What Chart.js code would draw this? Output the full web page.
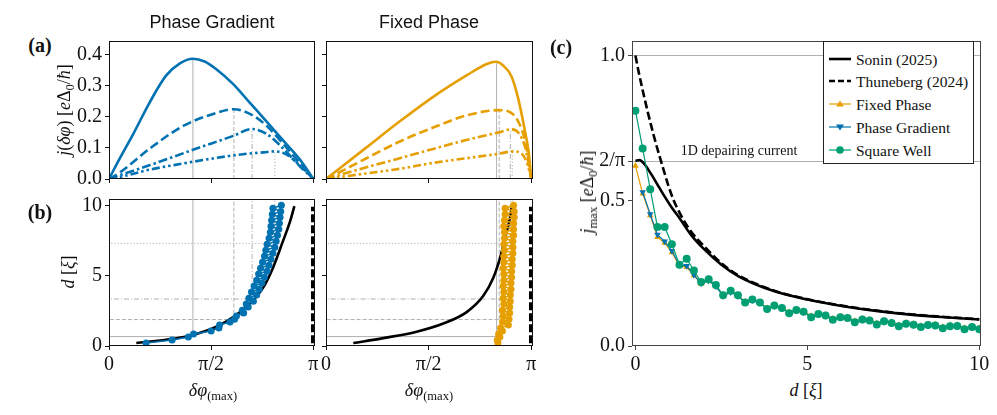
<!DOCTYPE html>
<html><head><meta charset="utf-8">
<script src="https://cdn.jsdelivr.net/npm/chart.js@4.4.1/dist/chart.umd.min.js"></script>
<style>
html,body{margin:0;padding:0;background:#fff;}
#root{position:relative;width:997px;height:415px;overflow:hidden;font-family:'Liberation Serif','Times New Roman',serif;color:#111;}
canvas{position:absolute;}
.t{position:absolute;white-space:nowrap;line-height:1;}
.rot{transform:translate(-50%,-50%) rotate(-90deg);}
.ctr{transform:translate(-50%,-50%);}
.ttl{font-family:'Liberation Sans',Arial,sans-serif;font-size:18px;}
.lab{font-family:'Liberation Serif','Times New Roman',serif;font-weight:bold;font-size:20px;}
.ax{font-family:'Liberation Serif','Times New Roman',serif;font-size:18px;}
sub{font-size:70%;vertical-align:-0.3em;line-height:0;}
#legend{position:absolute;left:823px;top:41px;width:149px;height:121px;border:1.3px solid #222;background:#fff;}
.row{position:absolute;left:0;height:20px;font-size:15.5px;}
.row svg{position:absolute;left:5px;top:4px;}
.row span{position:absolute;left:32px;top:2px;white-space:nowrap;}
</style></head>
<body><div id="root"></div>
<script>
const PI = Math.PI;
// ---------- tick labels ----------
const phaseTicks = [0, PI/2, PI];
const phaseTickLabels = ['0', 'π/2', 'π'];
const jTicks = [0, 0.1, 0.2, 0.3, 0.4];
const jTickLabels = ['0.0', '0.1', '0.2', '0.3', '0.4'];
const dTicks = [0, 5, 10];
const dTickLabels = ['0', '5', '10'];
const cYTicks = [0, 0.5, 2/PI, 1.0];
const cYTickLabels = ['0.0', '0.5', '2/π', '1.0'];
const cXTicks = [0, 5, 10];
const cXTickLabels = ['0', '5', '10'];

// ---------- (a) Phase Gradient current-phase curves ----------
const pg1X = [0, 0.18, 0.37, 0.62, 0.88, 1.09, 1.29, 1.47, 1.65, 1.91, 2.16, 2.42, 2.67, 2.93, 3.1416];
const pg1Y = [0, 0.072, 0.144, 0.245, 0.334, 0.373, 0.388, 0.379, 0.354, 0.306, 0.247, 0.186, 0.126, 0.064, 0];
const pg2X = [0, 0.16, 0.62, 1.14, 1.65, 1.92, 2.21, 2.42, 2.67, 2.93, 3.1416];
const pg2Y = [0, 0.02, 0.097, 0.171, 0.213, 0.225, 0.205, 0.172, 0.115, 0.052, 0];
const pg3X = [0, 0.16, 0.62, 1.29, 1.91, 2.20, 2.42, 2.67, 2.93, 3.1416];
const pg3Y = [0, 0.012, 0.044, 0.094, 0.139, 0.161, 0.146, 0.100, 0.042, 0];
const pg4X = [0, 0.2, 0.62, 1.14, 1.65, 2.06, 2.38, 2.55, 2.72, 2.93, 3.1416];
const pg4Y = [0, 0.008, 0.030, 0.050, 0.068, 0.080, 0.086, 0.089, 0.080, 0.045, 0];
// ---------- (a) Fixed Phase current-phase curves ----------
const fp1X = [0, 0.62, 1.13, 1.64, 2.15, 2.46, 2.60, 2.71, 2.84, 2.94, 3.03, 3.10, 3.1416];
const fp1Y = [0, 0.102, 0.186, 0.265, 0.334, 0.371, 0.378, 0.366, 0.330, 0.260, 0.170, 0.087, 0];
const fp2X = [0, 0.06, 0.62, 1.13, 1.64, 2.15, 2.65, 2.82, 2.94, 3.05, 3.1416];
const fp2Y = [0, 0.006, 0.067, 0.121, 0.166, 0.205, 0.222, 0.215, 0.186, 0.120, 0];
const fp3X = [0, 0.62, 1.13, 1.64, 2.15, 2.66, 2.83, 2.94, 3.05, 3.1416];
const fp3Y = [0, 0.038, 0.067, 0.097, 0.126, 0.151, 0.160, 0.150, 0.100, 0];
const fp4X = [0, 0.62, 1.13, 1.64, 2.15, 2.66, 2.85, 2.97, 3.07, 3.1416];
const fp4Y = [0, 0.018, 0.033, 0.052, 0.067, 0.082, 0.089, 0.085, 0.055, 0];

// maxima markers (reference lines)
const pgPhiMax = [1.29, 1.92, 2.20, 2.55];
const pgJMax = [0.388, 0.225, 0.161, 0.089];
const fpPhiMax = [2.61, 2.65, 2.82, 2.85];
const fpJMax = [0.378, 0.222, 0.160, 0.089];
const dLevels = [0.67, 1.88, 3.34, 7.3];

// ---------- (b) ----------
const sonPgPhi = [0.42, 0.88, 1.29, 1.65, 1.91, 2.16, 2.37, 2.52, 2.67, 2.78, 2.85];
const sonPgD = [0.21, 0.44, 0.79, 1.37, 2.06, 2.99, 4.15, 5.55, 7.4, 8.8, 9.95];
const sonFpPhi = [0.418, 0.877, 1.387, 1.795, 2.152, 2.407, 2.56, 2.662, 2.739, 2.825, 2.84];
const sonFpD = [0.21, 0.56, 1.02, 1.6, 2.41, 3.57, 4.85, 6.24, 7.63, 9.37, 9.84];
const thunPhi = [3.136, 3.136];
const thunD = [0.2, 9.9];
const dDots = [0.21, 0.43, 0.64, 0.85, 1.06, 1.28, 1.49, 1.70, 1.91, 2.13, 2.34, 2.55, 2.77, 2.98, 3.19, 3.40, 3.62, 3.83, 4.04, 4.26, 4.47, 4.68, 4.89, 5.11, 5.32, 5.53, 5.74, 5.96, 6.17, 6.38, 6.60, 6.81, 7.02, 7.23, 7.45, 7.66, 7.87, 8.09, 8.30, 8.51, 8.72, 8.94, 9.15, 9.36, 9.57, 9.79, 10.0];
const pgPhiDots = [0.57, 0.97, 1.22, 1.30, 1.57, 1.69, 1.70, 1.86, 1.93, 1.96, 2.07, 2.05, 2.14, 2.11, 2.22, 2.15, 2.27, 2.19, 2.31, 2.23, 2.35, 2.27, 2.39, 2.30, 2.43, 2.33, 2.46, 2.36, 2.49, 2.39, 2.52, 2.41, 2.55, 2.43, 2.57, 2.46, 2.59, 2.48, 2.61, 2.49, 2.62, 2.50, 2.63, 2.51, 2.64, 2.52, 2.65];
const fpPhiDots = [2.63, 2.62, 2.66, 2.64, 2.70, 2.67, 2.79, 2.70, 2.80, 2.71, 2.81, 2.70, 2.81, 2.72, 2.82, 2.71, 2.82, 2.72, 2.83, 2.71, 2.83, 2.72, 2.84, 2.72, 2.84, 2.71, 2.85, 2.72, 2.85, 2.72, 2.86, 2.73, 2.86, 2.72, 2.86, 2.73, 2.87, 2.73, 2.87, 2.72, 2.87, 2.73, 2.88, 2.74, 2.88, 2.74, 2.87];

// ---------- (c) ----------
const sonD = [0, 0.12, 0.25, 0.43, 0.62, 0.81, 1.05, 1.3, 1.6, 1.98, 2.5, 3.0, 4.0, 5.0, 6.0, 7.0, 8.0, 9.0, 10.0];
const sonJ = [0.637, 0.64, 0.628, 0.597, 0.56, 0.522, 0.478, 0.437, 0.385, 0.335, 0.28, 0.24, 0.19, 0.16, 0.138, 0.121, 0.108, 0.099, 0.091];
const thD = [0, 0.1, 0.23, 0.37, 0.52, 0.66, 0.81, 0.95, 1.1, 1.3, 1.6, 2.0, 2.5, 3.0, 4.0, 5.0, 6.0, 7.0, 8.0, 9.0, 10.0];
const thJ = [1.0, 0.94, 0.87, 0.80, 0.73, 0.67, 0.61, 0.555, 0.505, 0.455, 0.397, 0.343, 0.285, 0.243, 0.192, 0.161, 0.139, 0.122, 0.109, 0.1, 0.092];
const dGrid = [0, 0.21, 0.43, 0.64, 0.85, 1.06, 1.28, 1.49, 1.70, 1.91, 2.13, 2.34, 2.55, 2.77, 2.98, 3.19, 3.40, 3.62, 3.83, 4.04, 4.26, 4.47, 4.68, 4.89, 5.11, 5.32, 5.53, 5.74, 5.96, 6.17, 6.38, 6.60, 6.81, 7.02, 7.23, 7.45, 7.66, 7.87, 8.09, 8.30, 8.51, 8.72, 8.94, 9.15, 9.36, 9.57, 9.79, 10.0];
const fpJmax = [0.62, 0.525, 0.45, 0.375, 0.355, 0.322, 0.276, 0.272, 0.243, 0.214, 0.224, 0.205, 0.174, 0.186, 0.174, 0.152, 0.16, 0.15, 0.13, 0.14, 0.133, 0.116, 0.125, 0.12, 0.103, 0.112, 0.107, 0.094, 0.101, 0.098, 0.086, 0.093, 0.09, 0.078, 0.087, 0.082, 0.072, 0.08, 0.076, 0.069, 0.075, 0.074, 0.065, 0.071, 0.072, 0.062, 0.068, 0.062];
const pgJmax = [null, 0.53, 0.454, 0.383, 0.36, 0.327, 0.279, 0.276, 0.245, 0.215, 0.225, 0.205, 0.172, 0.185, 0.172, 0.15, 0.158, 0.148, 0.128, 0.137, 0.13, 0.114, 0.122, 0.117, 0.1, 0.109, 0.104, 0.091, 0.098, 0.095, 0.083, 0.09, 0.087, 0.075, 0.084, 0.079, 0.069, 0.077, 0.073, 0.066, 0.072, 0.07, 0.062, 0.068, 0.068, 0.059, 0.065, 0.058];
const swJmax = [0.81, 0.68, 0.54, 0.41, 0.41, 0.35, 0.28, 0.30, 0.26, 0.22, 0.23, 0.21, 0.175, 0.19, 0.175, 0.15, 0.16, 0.15, 0.127, 0.139, 0.131, 0.113, 0.124, 0.118, 0.099, 0.110, 0.105, 0.090, 0.099, 0.096, 0.082, 0.091, 0.088, 0.074, 0.085, 0.079, 0.068, 0.077, 0.073, 0.065, 0.072, 0.071, 0.061, 0.068, 0.069, 0.058, 0.065, 0.058];

// ---------- styling ----------
const BLUE = '#0072B2', ORANGE = '#E69F00', GREEN = '#009E73', GRAY = '#b0b0b0';
const curveDash = [[], [9, 4], [9, 3, 2.5, 3], [8, 3, 2.5, 3, 2.5, 3]];
const refDash = [[], [4, 2], [5, 2, 1, 2], [1.2, 2]];
const FONT = "'Liberation Serif', 'Times New Roman', serif";
const root = document.getElementById('root');

const pts = (xs, ys) => xs.map((x, i) => ({x: x, y: ys[i]})).filter(p => p.y !== null);

const framePlugin = {
  id: 'frame',
  afterDatasetsDraw(chart, args, o) {
    const a = chart.chartArea, ctx = chart.ctx;
    ctx.save();
    ctx.strokeStyle = o.color || '#111';
    ctx.lineWidth = 1;
    ctx.strokeRect(Math.round(a.left) + 0.5, Math.round(a.top) + 0.5, Math.round(a.right - a.left) - 1, Math.round(a.bottom - a.top) - 1);
    ctx.restore();
  }
};

function axis(min, max, ticks, labels, isX, size, axisColor, gridColor) {
  return {
    type: 'linear', min: min, max: max,
    afterBuildTicks: s => { s.ticks = ticks.map(v => ({value: v})); },
    afterFit: s => { if (isX) s.height = size; else s.width = size; },
    ticks: {
      autoSkip: false, maxRotation: 0, padding: 3, color: '#111',
      font: {family: FONT, size: 20},
      callback: (v, i) => labels ? labels[i] : ''
    },
    grid: gridColor ? {drawOnChartArea: true, color: gridColor, tickColor: axisColor, tickLength: 4, lineWidth: 1}
                    : {drawOnChartArea: false, drawTicks: true, tickLength: 4, tickColor: axisColor, color: axisColor, lineWidth: 1},
    border: {display: false}
  };
}

function makeChart(box, datasets, xAxis, yAxis, frameColor) {
  const cv = document.createElement('canvas');
  const W = box.yw + box.w + box.pr, H = box.pt + box.h + box.xh;
  cv.width = W; cv.height = H;
  cv.style.width = W + 'px'; cv.style.height = H + 'px';
  cv.style.left = (box.l - box.yw) + 'px'; cv.style.top = (box.t - box.pt) + 'px';
  root.appendChild(cv);
  return new Chart(cv, {
    type: 'scatter',
    data: {datasets: datasets},
    options: {
      responsive: false, animation: false, events: [],
      layout: {padding: {top: box.pt, right: box.pr, left: 0, bottom: 0}},
      plugins: {legend: {display: false}, tooltip: {enabled: false}, frame: {color: frameColor}},
      scales: {x: xAxis, y: yAxis}
    },
    plugins: [framePlugin]
  });
}

function curve(xs, ys, color, dash, width, order) {
  return {data: pts(xs, ys), showLine: true, borderColor: color, borderWidth: width, borderDash: dash,
          pointRadius: 0, cubicInterpolationMode: 'monotone', order: order, fill: false};
}
function ref(points, dash) {
  return {data: points, showLine: true, borderColor: GRAY, borderWidth: 1, borderDash: dash, pointRadius: 0, order: 20};
}

const pgCurves = [[pg1X, pg1Y], [pg2X, pg2Y], [pg3X, pg3Y], [pg4X, pg4Y]];
const fpCurves = [[fp1X, fp1Y], [fp2X, fp2Y], [fp3X, fp3Y], [fp4X, fp4Y]];
function aSets(curves, phiMax, jMax, color) {
  const s = [];
  curves.forEach((c, i) => s.push(curve(c[0], c[1], color, curveDash[i], 2.6, i)));
  phiMax.forEach((p, i) => s.push(ref([{x: p, y: 0}, {x: p, y: jMax[i]}], refDash[i])));
  return s;
}
function bSets(phiMax, dotsPhi, sonPhi, sonD, color) {
  const s = [];
  s.push({data: pts(dotsPhi, dDots), showLine: true, borderColor: color, borderWidth: 1.5, pointRadius: 3.5,
          pointBackgroundColor: color, pointBorderWidth: 0, order: 0});
  s.push(curve(sonPhi, sonD, '#000', [], 2.6, 1));
  s.push({data: pts(thunPhi, thunD), showLine: true, borderColor: '#000', borderWidth: 4, borderDash: [8, 3],
          pointRadius: 0, order: 2});
  phiMax.forEach((p, i) => {
    s.push(ref([{x: p, y: dLevels[i]}, {x: p, y: 20}], refDash[i]));
    s.push(ref([{x: -1, y: dLevels[i]}, {x: p, y: dLevels[i]}], refDash[i]));
  });
  return s;
}

const XMAXP = 3.167, AX = '#111';
makeChart({l: 109, t: 36, w: 206, h: 150, yw: 50, xh: 8, pt: 10, pr: 8},
  aSets(pgCurves, pgPhiMax, pgJMax, BLUE),
  axis(0, XMAXP, phaseTicks, null, true, 8, AX), axis(0, 0.445, jTicks, jTickLabels, false, 50, AX), AX);
makeChart({l: 326, t: 36, w: 207, h: 150, yw: 10, xh: 8, pt: 10, pr: 8},
  aSets(fpCurves, fpPhiMax, fpJMax, ORANGE),
  axis(0, XMAXP, phaseTicks, null, true, 8, AX), axis(0, 0.445, jTicks, null, false, 10, AX), AX);
makeChart({l: 109, t: 196, w: 206, h: 150, yw: 50, xh: 30, pt: 12, pr: 10},
  bSets(pgPhiMax, pgPhiDots, sonPgPhi, sonPgD, BLUE),
  axis(0, XMAXP, phaseTicks, phaseTickLabels, true, 30, AX), axis(0, 10.45, dTicks, dTickLabels, false, 50, AX), AX);
makeChart({l: 326, t: 196, w: 207, h: 150, yw: 10, xh: 30, pt: 12, pr: 10},
  bSets(fpPhiMax, fpPhiDots, sonFpPhi, sonFpD, ORANGE),
  axis(0, XMAXP, phaseTicks, phaseTickLabels, true, 30, AX), axis(0, 10.45, dTicks, null, false, 10, AX), AX);

// ---------- panel (c) ----------
const CAX = '#444';
const cGrid = ctx => (ctx.tick && (Math.abs(ctx.tick.value - 1) < 1e-6 || Math.abs(ctx.tick.value - 2 / PI) < 1e-6)) ? GRAY : 'rgba(0,0,0,0)';
const cSets = [
  {data: pts(dGrid, swJmax), showLine: true, borderColor: GREEN, borderWidth: 1.2, pointStyle: 'circle', pointRadius: 4,
   pointBackgroundColor: GREEN, pointBorderWidth: 0, order: 0},
  {data: pts(dGrid, pgJmax), showLine: true, borderColor: BLUE, borderWidth: 1.2, pointStyle: 'triangle', rotation: 180, pointRadius: 3.8,
   pointBackgroundColor: BLUE, pointBorderWidth: 0, order: 1},
  {data: pts(dGrid, fpJmax), showLine: true, borderColor: ORANGE, borderWidth: 1.2, pointStyle: 'triangle', pointRadius: 3.8,
   pointBackgroundColor: ORANGE, pointBorderWidth: 0, order: 2},
  curve(thD, thJ, '#000', [8, 3.5], 2.6, 3),
  curve(sonD, sonJ, '#000', [], 2.6, 4)
];
makeChart({l: 632, t: 36, w: 349, h: 310, yw: 52, xh: 30, pt: 10, pr: 14}, cSets,
  axis(-0.1, 10.05, cXTicks, cXTickLabels, true, 30, CAX), axis(0, 1.05, cYTicks, cYTickLabels, false, 52, CAX, cGrid), CAX);

// ---------- text ----------
function txt(html, x, y, cls) {
  const d = document.createElement('div');
  d.className = 't ' + cls; d.innerHTML = html;
  d.style.left = x + 'px'; d.style.top = y + 'px';
  root.appendChild(d);
  return d;
}
txt('Phase Gradient', 212, 22, 'ttl ctr');
txt('Fixed Phase', 429, 22, 'ttl ctr');
txt('(a)', 40, 45, 'lab ctr');
txt('(b)', 40, 212, 'lab ctr');
txt('(c)', 561, 47, 'lab ctr');
txt('<i>j</i>(<i>δφ</i>) [<i>e</i>Δ<sub>0</sub>/<i>ħ</i>]', 64, 110, 'ax rot');
txt('<i>d</i> [<i>ξ</i>]', 68, 272, 'ax rot');
txt('<i>j</i><sub>max</sub> [<i>e</i>Δ<sub>0</sub>/<i>ħ</i>]', 587, 192, 'ax rot');
txt('<i>δφ</i><sub>(max)</sub>', 213, 390, 'ax ctr');
txt('<i>δφ</i><sub>(max)</sub>', 429, 390, 'ax ctr');
txt('<i>d</i> [<i>ξ</i>]', 806, 390, 'ax ctr');
txt('1D depairing current', 739, 151, 'ctr').style.fontSize = '14px';

// ---------- legend ----------
const legendLabels = ['Sonin (2025)', 'Thuneberg (2024)', 'Fixed Phase', 'Phase Gradient', 'Square Well'];
const legendSym = [
  '<line x1="0" y1="6" x2="22" y2="6" stroke="#000" stroke-width="2.6"/>',
  '<line x1="0" y1="6" x2="22" y2="6" stroke="#000" stroke-width="2.6" stroke-dasharray="6,3"/>',
  '<line x1="0" y1="6" x2="22" y2="6" stroke="' + ORANGE + '" stroke-width="1.2"/><polygon points="11,2.5 15,8.5 7,8.5" fill="' + ORANGE + '"/>',
  '<line x1="0" y1="6" x2="22" y2="6" stroke="' + BLUE + '" stroke-width="1.2"/><polygon points="11,9.5 15,3.5 7,3.5" fill="' + BLUE + '"/>',
  '<line x1="0" y1="6" x2="22" y2="6" stroke="' + GREEN + '" stroke-width="1.2"/><circle cx="11" cy="6" r="3.8" fill="' + GREEN + '"/>'
];
const leg = document.createElement('div'); leg.id = 'legend'; root.appendChild(leg);
const rowY = [16.7, 39.3, 62.3, 85, 108];
legendLabels.forEach((l, i) => {
  const r = document.createElement('div'); r.className = 'row';
  r.style.top = (rowY[i] - 10) + 'px';
  r.innerHTML = '<svg width="22" height="12">' + legendSym[i] + '</svg><span>' + l + '</span>';
  leg.appendChild(r);
});
</script>
</body></html>
